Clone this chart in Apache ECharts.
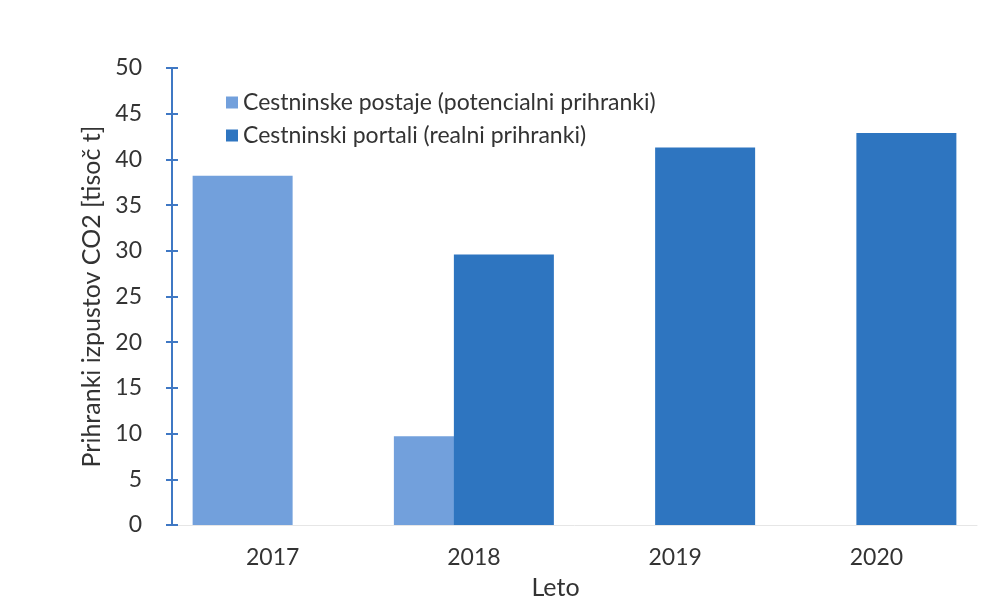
<!DOCTYPE html>
<html><head><meta charset="utf-8">
<script src="https://cdn.jsdelivr.net/npm/echarts@6/dist/echarts.min.js"></script>
<style>html,body{margin:0;padding:0;background:#fff}#c{width:997px;height:616px}</style>
</head><body><div id="c"></div>
<script>
const categories = ['2017', '2018', '2019', '2020'];
const postaje = [38.2, 9.7, 0, 0];
const portali = [0, 29.6, 41.3, 42.9];
const yTicks = [0, 5, 10, 15, 20, 25, 30, 35, 40, 45, 50];
const seriesNames = ['Cestninske postaje (potencialni prihranki)', 'Cestninski portali (realni prihranki)'];

const FONT = 'Lato';
const chart = echarts.init(document.getElementById('c'));
chart.setOption({
  backgroundColor: '#ffffff',
  animation: false,
  textStyle: { fontFamily: FONT },
  grid: { left: 172, right: 20, top: 68, bottom: 91 },
  legend: {
    orient: 'vertical', left: 221, top: 86, itemWidth: 12, itemHeight: 12, itemGap: 10,
    textStyle: { fontFamily: FONT, fontSize: 23, color: '#333', padding: [0, 0, 0, 0] },
    icon: 'rect',
    data: seriesNames
  },
  xAxis: {
    type: 'category', data: categories,
    axisLine: { lineStyle: { color: '#e6e6e6', width: 1 } },
    axisTick: { show: false },
    axisLabel: { fontFamily: FONT, fontSize: 23, color: '#333', margin: 21 },
    name: 'Leto', nameLocation: 'middle', nameGap: 50,
    nameTextStyle: { fontFamily: FONT, fontSize: 25, color: '#333', padding: [0, 38, 0, 0] }
  },
  yAxis: [{
    type: 'value', min: yTicks[0], max: yTicks[yTicks.length - 1], interval: 5,
    splitLine: { show: false },
    axisLine: { show: true, lineStyle: { color: '#3f78c4', width: 2 } },
    axisTick: { show: true, length: 6, lineStyle: { color: '#3f78c4', width: 2 } },
    axisLabel: { fontFamily: FONT, fontSize: 23, color: '#333', margin: 30 },
    name: 'Prihranki izpustov CO2 [tisoč t]', nameLocation: 'middle', nameGap: 62,
    nameTextStyle: { fontFamily: FONT, fontSize: 25, color: '#333' }
  }, {
    type: 'value', position: 'left', min: yTicks[0], max: yTicks[yTicks.length - 1], interval: 5,
    splitLine: { show: false },
    axisLine: { show: false },
    axisTick: { show: true, inside: true, length: 6, lineStyle: { color: '#3f78c4', width: 2 } },
    axisLabel: { show: false }
  }],
  series: [{
    name: seriesNames[0], type: 'bar', data: postaje,
    barWidth: 100, barGap: '-40%',
    itemStyle: { color: '#72a0dc' }
  }, {
    name: seriesNames[1], type: 'bar', data: portali,
    barWidth: 100, barGap: '-40%',
    itemStyle: { color: '#2e75c0' }
  }]
});
</script></body></html>
